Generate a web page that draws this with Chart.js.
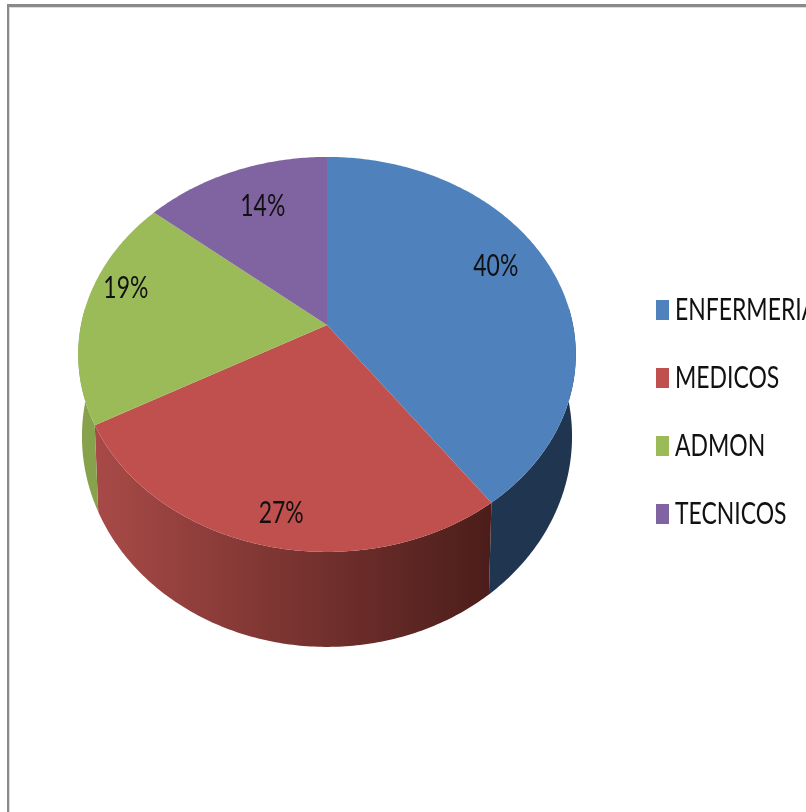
<!DOCTYPE html>
<html>
<head>
<meta charset="utf-8">
<script src="https://cdn.jsdelivr.net/npm/chart.js@4/dist/chart.umd.min.js"></script>
<style>
  html, body { margin: 0; padding: 0; background: #fff; overflow: hidden; }
  #wrap { position: relative; width: 806px; height: 812px; }
  #frame { position: absolute; left: 7px; top: 4px; right: 0; bottom: 0; border-top: 3px solid #8a8a8a; border-left: 2px solid #8a8a8a; box-shadow: inset 1px 1px 0 #dcdcdc; }
  canvas { position: absolute; left: 0; top: 0; }
</style>
</head>
<body>
<div id="wrap">
  <div id="frame"></div>
  <canvas id="chart-1" width="806" height="812"></canvas>
</div>
<script>
const categories = ["ENFERMERIA", "MEDICOS", "ADMON", "TECNICOS"];
const values = [40, 27, 19, 14];
const topColors = ["#4f81bd", "#c0504d", "#9bbb59", "#8064a2"];
const sideColors = [["#1f3550", "#1f3550"], ["#a84a47", "#4b1d1a"], ["#87a24d", "#87a24d"], ["#6a5388", "#6a5388"]];
const labelShift = [[-3, -15], [0, 27], [-17, -23], [8, 1]];

// perspective of the pie, applied to the arcs chart.js has laid out
const tilt = -0.149;
const squash = 0.785;
const textFont = "31px Lato, sans-serif";
const textSqueeze = 0.74;

function project(arc, f, t) {
  const ux = f * Math.sin(t);
  const uy = -f * Math.cos(t);
  const den = 1 + tilt * uy;
  return {
    x: arc.x + arc.outerRadius * ux / den,
    y: arc.y + arc.outerRadius * squash * uy / den,
  };
}

function lower(arc, p) {
  return {
    x: arc.x + (p.x - arc.x) * 0.985,
    y: p.y + 95 - (552 - p.y) * 0.066,
  };
}

function rim(arc, from, to) {
  const pts = [];
  const n = Math.max(2, Math.ceil((to - from) * 80));
  for (let i = 0; i <= n; i++) {
    pts.push(project(arc, 1, from + (to - from) * i / n));
  }
  return pts;
}

function fillPath(ctx, pts, style) {
  ctx.beginPath();
  pts.forEach((p, i) => (i ? ctx.lineTo(p.x, p.y) : ctx.moveTo(p.x, p.y)));
  ctx.closePath();
  ctx.fillStyle = style;
  ctx.fill();
}

function squeezedText(ctx, text, x, y, align) {
  ctx.save();
  ctx.translate(x, y);
  ctx.scale(textSqueeze, 1);
  ctx.font = textFont;
  ctx.fillStyle = "#111";
  ctx.textAlign = align;
  ctx.textBaseline = "middle";
  ctx.fillText(text, 0, 0);
  ctx.restore();
}

const pie3d = {
  id: "pie3d",
  beforeDatasetDraw(chart) {
    const ctx = chart.ctx;
    const arcs = chart.getDatasetMeta(0).data;
    // walls first, only the part that faces the viewer
    arcs.forEach((arc, i) => {
      const from = Math.max(arc.startAngle + Math.PI / 2, 1.48);
      const to = Math.min(arc.endAngle + Math.PI / 2, 4.8);
      if (to <= from) return;
      const edge = rim(arc, from, to);
      const grad = ctx.createLinearGradient(edge[0].x, 0, edge[edge.length - 1].x, 0);
      grad.addColorStop(0, sideColors[i][1]);
      grad.addColorStop(1, sideColors[i][0]);
      fillPath(ctx, edge.concat(edge.map((p) => lower(arc, p)).reverse()), grad);
    });
    // top surface
    arcs.forEach((arc, i) => {
      const edge = rim(arc, arc.startAngle + Math.PI / 2, arc.endAngle + Math.PI / 2);
      fillPath(ctx, [{ x: arc.x, y: arc.y }].concat(edge), topColors[i]);
    });
    return false;
  },
  afterDatasetsDraw(chart) {
    const ctx = chart.ctx;
    const arcs = chart.getDatasetMeta(0).data;
    const total = values.reduce((a, b) => a + b, 0);
    arcs.forEach((arc, i) => {
      const mid = (arc.startAngle + arc.endAngle) / 2 + Math.PI / 2;
      const p = project(arc, 0.76, mid);
      const text = Math.round((values[i] / total) * 100) + "%";
      squeezedText(ctx, text, p.x + labelShift[i][0], p.y + labelShift[i][1], "center");
    });
    // legend
    categories.forEach((name, i) => {
      const y = 310 + i * 68;
      ctx.fillStyle = topColors[i];
      ctx.fillRect(656, y - 10, 13, 20);
      squeezedText(ctx, name, 675, y, "left");
    });
  },
};

const ctx_1 = document.getElementById("chart-1");
new Chart(ctx_1, {
  type: "pie",
  data: {
    labels: categories,
    datasets: [
      {
        data: values,
        backgroundColor: topColors,
        borderWidth: 0,
        hoverBorderWidth: 0,
        hoverOffset: 0,
      },
    ],
  },
  options: {
    responsive: false,
    animation: false,
    events: [],
    layout: {
      padding: { left: 81, right: 233, top: 79, bottom: 241 },
    },
    plugins: {
      legend: { display: false },
      tooltip: { enabled: false },
    },
  },
  plugins: [pie3d],
});
</script>
</body>
</html>
